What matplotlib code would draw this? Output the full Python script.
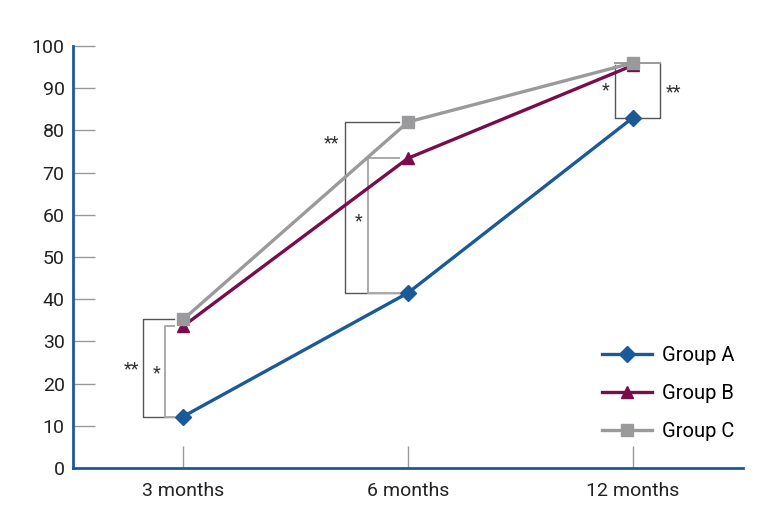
import matplotlib.pyplot as plt

plt.rcParams['font.family'] = ['Roboto', 'DejaVu Sans']

categories = ['3 months', '6 months', '12 months']
group_a = [12.2, 41.5, 83.0]
group_b = [33.6, 73.4, 95.4]
group_c = [35.2, 82.0, 96.0]

blue = '#1b5a99'
purple = '#7b0c4b'
gray = '#9a9a9c'
dark = '#555555'

fig = plt.figure(figsize=(7.7, 5.23), dpi=100)
ax = fig.add_axes([73/770, 1 - 468/523, 670/770, 422/523])

x = range(len(categories))
ax.plot(x, group_a, color=blue, lw=2.4, marker='D', ms=8, label='Group A')
ax.plot(x, group_b, color=purple, lw=2.4, marker='^', ms=9, label='Group B')
ax.plot(x, group_c, color=gray, lw=2.4, marker='s', ms=8, label='Group C')

# significance brackets
def bracket(xv, xr, top, bot, c, lw=1.0):
    ax.plot([xr, xv, xv, xr], [top, top, bot, bot], color=c, lw=lw, zorder=1)

bracket(-0.18, -0.04, group_c[0], group_a[0], dark)
bracket(-0.08, -0.04, group_b[0], group_a[0], '#aaaaaa', 1.4)
ax.text(-0.23, 23.5, '**', ha='center', va='center', fontsize=13, color='#333333')
ax.text(-0.12, 22.5, '*', ha='center', va='center', fontsize=13, color='#333333')

bracket(0.72, 0.96, group_c[1], group_a[1], dark)
bracket(0.82, 0.96, group_b[1], group_a[1], '#aaaaaa', 1.4)
ax.text(0.66, 77, '**', ha='center', va='center', fontsize=13, color='#333333')
ax.text(0.78, 58.5, '*', ha='center', va='center', fontsize=13, color='#333333')

ax.plot([1.92, 1.92, 2.12, 2.12], [group_b[2], group_a[2], group_a[2], group_c[2]],
        color=dark, lw=1.0, zorder=1)
ax.plot([1.92, 2.12], [group_c[2], group_c[2]], color=gray, lw=1.4, zorder=1)
ax.text(1.88, 89.5, '*', ha='center', va='center', fontsize=13, color='#333333')
ax.text(2.18, 89, '**', ha='center', va='center', fontsize=13, color='#333333')

ax.set_xlim(-0.49, 2.49)
ax.set_ylim(0, 100)
ax.set_xticks(list(x))
ax.set_xticklabels(categories)
ax.set_yticks(range(0, 101, 10))
ax.tick_params(axis='both', direction='in', length=16, width=1, color='#999999',
               labelsize=14, labelcolor='#222222')
ax.tick_params(axis='y', pad=6)
ax.tick_params(axis='x', pad=10)

for s in ['top', 'right']:
    ax.spines[s].set_visible(False)
for s in ['left', 'bottom']:
    ax.spines[s].set_color(blue)
    ax.spines[s].set_linewidth(2)

leg = ax.legend(loc='lower right', bbox_to_anchor=(1.015, 0.02), frameon=False,
                fontsize=14.5, handlelength=2.5, labelspacing=0.95, handletextpad=0.5)

fig.savefig('out.png', dpi=100)
